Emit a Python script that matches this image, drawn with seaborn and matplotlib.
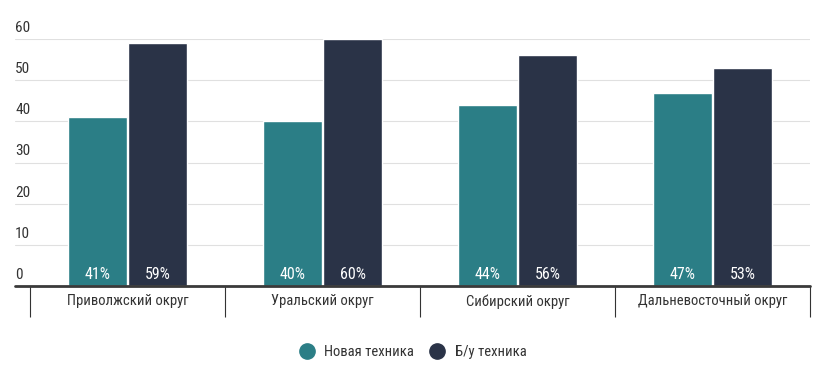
import pandas as pd
import matplotlib.pyplot as plt
import seaborn as sns
from matplotlib.lines import Line2D
from matplotlib.transforms import blended_transform_factory

# Data
regions = ["Приволжский округ", "Уральский округ", "Сибирский округ", "Дальневосточный округ"]
new_share = [41, 40, 44, 47]
used_share = [59, 60, 56, 53]
series = ["Новая техника", "Б/у техника"]
colors = ["#2b7e86", "#2a3347"]

df = pd.DataFrame({
    "region": regions * 2,
    "value": new_share + used_share,
    "type": [series[0]] * 4 + [series[1]] * 4,
})

sns.set_theme(style="white")
plt.rcParams["font.family"] = ["Roboto Condensed", "DejaVu Sans"]
plt.rcParams["font.stretch"] = "condensed"

fig = plt.figure(figsize=(8.3, 3.75), dpi=100)
W, H = 830, 375
ax = fig.add_axes([15 / W, 1 - 286 / H, (810 - 15) / W, (286 - 39) / H])

sns.barplot(data=df, x="region", y="value", hue="type", palette=colors,
            width=0.62, gap=0.03, saturation=1, ax=ax, legend=False)

cat_w = (810 - 15) / 195
ax.set_xlim(3.5 - cat_w, 3.5)
ax.set_ylim(0, 60)

for s in ax.spines.values():
    s.set_visible(False)
ax.axhline(0, color="#3a3a3a", lw=2, zorder=5, clip_on=False)

# gridlines and y labels sitting above them
trans = blended_transform_factory(ax.transAxes, ax.transData)
for v in range(10, 61, 10):
    ax.axhline(v, color="#e0e0e0", lw=0.8, zorder=0)
for v in range(0, 61, 10):
    ax.annotate(str(v), (0, v), xycoords=trans, xytext=(0, 3),
                textcoords="offset points", ha="left", va="bottom",
                fontsize=11, color="#333333")

# category separators + labels
ax.set_yticks([])
ax.set_xticks(range(len(regions)))
ax.set_xticklabels(regions, fontsize=10.5, color="#333333")
ax.tick_params(axis="x", which="major", bottom=False, length=0, pad=6)
ax.set_xticks([i - 0.5 for i in range(len(regions) + 1)], minor=True)
ax.tick_params(axis="x", which="minor", bottom=True, length=22, width=0.8,
               color="#333333", direction="out")
ax.set_xlabel("")
ax.set_ylabel("")

# percentage labels at bar bottoms
for cont in ax.containers:
    for bar in cont:
        ax.annotate(f"{int(bar.get_height())}%",
                    (bar.get_x() + bar.get_width() / 2, 0),
                    xytext=(0, 3), textcoords="offset points",
                    ha="center", va="bottom", color="white", fontsize=11.5)

handles = [Line2D([], [], marker="o", ls="", markersize=11, color=c) for c in colors]
fig.legend(handles, series, loc="center", bbox_to_anchor=(0.493, 1 - 352 / H),
           ncol=2, frameon=False, fontsize=10.5, handletextpad=0.2,
           columnspacing=0.6, labelcolor="#333333")

fig.savefig("out.png", dpi=100)
